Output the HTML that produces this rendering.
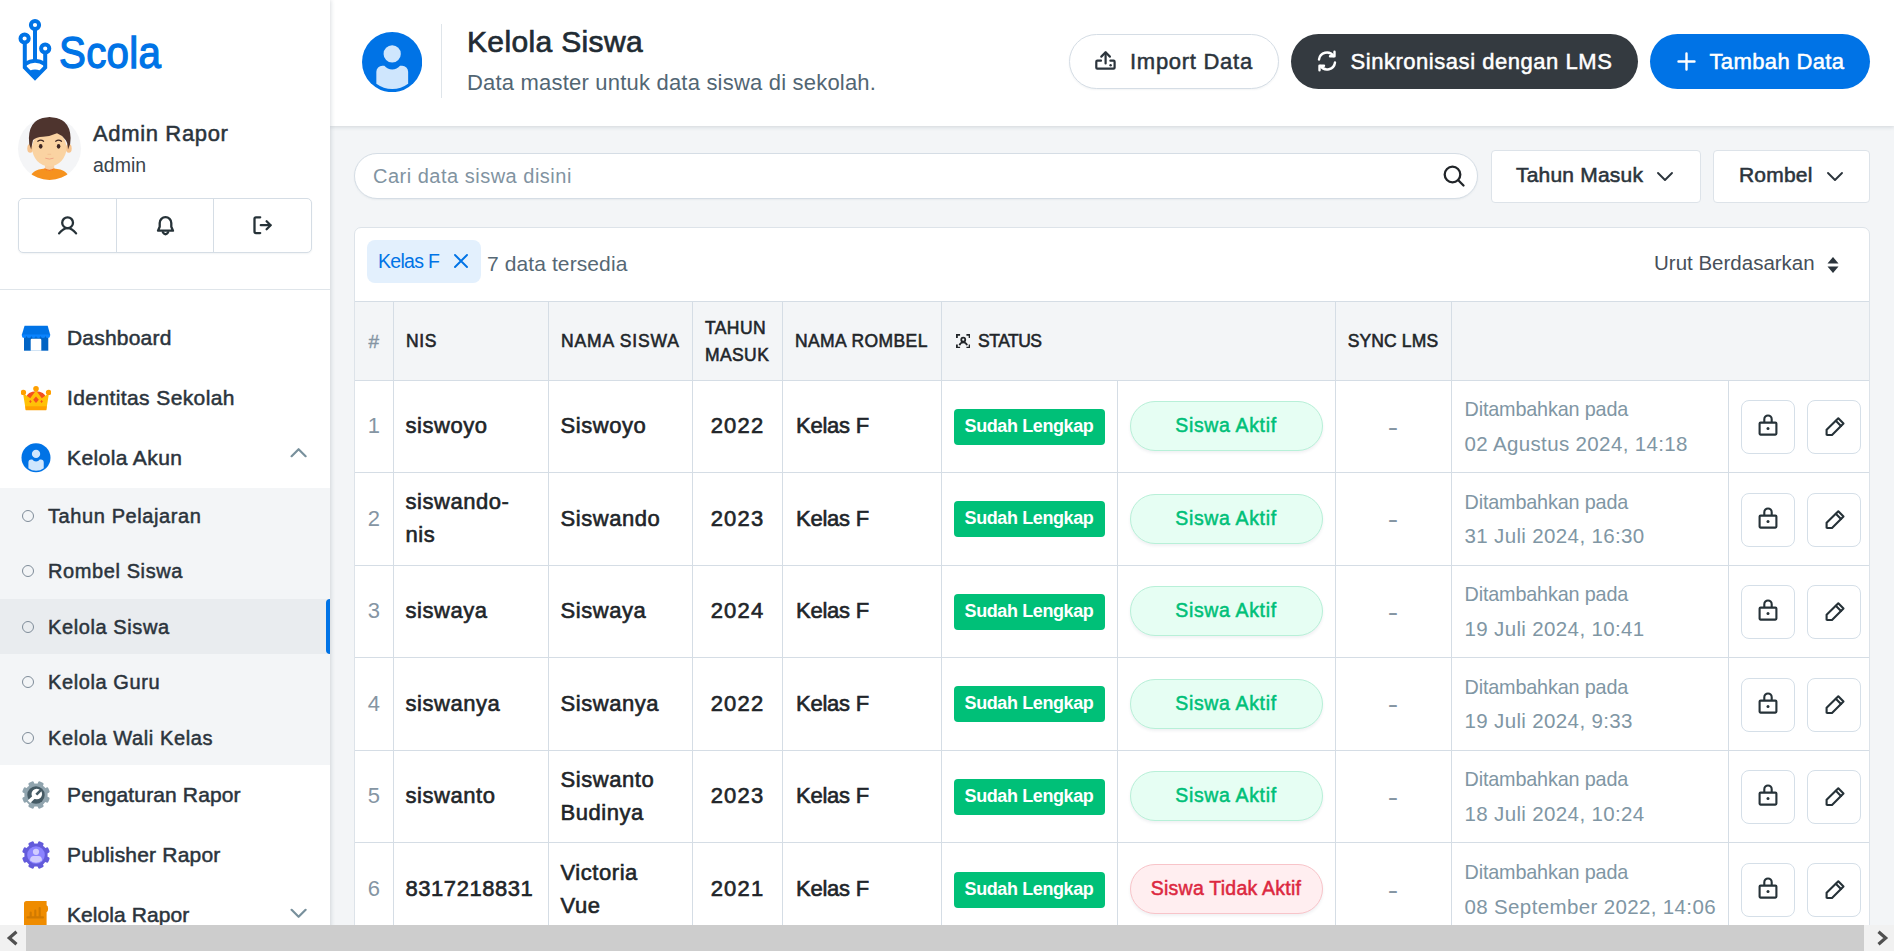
<!DOCTYPE html>
<html lang="id">
<head>
<meta charset="utf-8">
<title>Kelola Siswa - Scola</title>
<style>
*{box-sizing:border-box;margin:0;padding:0}
html,body{width:1894px;height:951px;overflow:hidden;background:#f3f5f7}
body{font-family:"Liberation Sans",sans-serif;color:#212529;position:relative}
.abs{position:absolute}
.t{position:absolute;white-space:nowrap;line-height:1}
.m{-webkit-text-stroke:0.35px currentColor}
svg{display:block}

/* ---------- sidebar ---------- */
#side{position:absolute;left:0;top:0;width:330px;height:951px;background:#fff;box-shadow:1px 0 4px rgba(40,60,80,.17);z-index:3}
#brand{left:58.500px;top:31.400px;font-size:44px;color:#0073e6;letter-spacing:.3px;-webkit-text-stroke:1.300px #0073e6;transform:scaleX(.915);transform-origin:0 0}
#avatar{left:18px;top:117px;width:63px;height:63px;border-radius:50%;background:#f4f5f7;overflow:hidden}
#uname{left:93px;top:122.500px;font-size:22px;letter-spacing:.65px;color:#2b343c;-webkit-text-stroke:0.5px currentColor}
#urole{left:93px;top:156px;font-size:19.5px;color:#3a444d}
#ugrp{left:18px;top:198px;width:294px;height:55px;border:1px solid #d5dde5;border-radius:5px;background:#fff;box-shadow:0 1px 2px rgba(40,60,80,.06)}
#ugrp i{position:absolute;top:0;width:1px;height:53px;background:#d5dde5}
#sdiv{left:0;top:289px;width:330px;height:1px;background:#dfe5ea}
.mi{position:absolute;left:0;width:330px;height:60px}
.mi .ic{position:absolute;left:21px;top:15px;width:30px;height:30px}
.mi .lb{position:absolute;left:67px;top:18.500px;font-size:21px;letter-spacing:.35px;line-height:1;color:#2b343c;white-space:nowrap;-webkit-text-stroke:0.5px currentColor}
.mi .ch{position:absolute;left:289px;top:22.800px}
#sub{left:0;top:488px;width:330px;height:277px;background:#f3f5f7}
.si{position:absolute;left:0;width:330px;height:55.4px}
.si.on{background:#e9ecef}
.si.on:after{content:"";position:absolute;right:0;top:0;width:4px;height:100%;background:#0073e6;border-radius:4px 0 0 4px}
.si b{position:absolute;left:22px;top:22px;width:12px;height:12px;border:1.5px solid #7f8c99;border-radius:50%}
.si span{position:absolute;left:48px;top:18px;font-size:20px;letter-spacing:.6px;line-height:1;color:#2b343c;white-space:nowrap;-webkit-text-stroke:0.5px currentColor}

/* ---------- header ---------- */
#head{position:absolute;left:330px;top:0;width:1564px;height:126px;background:#fff;box-shadow:0 1px 4px rgba(40,60,80,.17);z-index:2}
#hico{left:31.800px;top:31.500px;width:60.200px;height:60.200px}
#hdiv{left:111px;top:24px;width:1px;height:74px;background:#dfe5ea}
#htitle{left:137px;top:27.200px;font-size:30px;letter-spacing:.35px;color:#212b33;-webkit-text-stroke:0.7px currentColor}
#hsub{left:137px;top:71.900px;font-size:22px;letter-spacing:.2px;color:#526673}
.pill{position:absolute;top:34px;height:55px;border-radius:28px;font-size:22px;line-height:1;white-space:nowrap}
.pill span{position:absolute;top:16.500px;-webkit-text-stroke:0.5px currentColor}
.pill svg{position:absolute}
#b1{left:739px;width:210px;background:#fff;border:1px solid #d5dde5;color:#2b343c;box-shadow:0 1px 2px rgba(40,60,80,.06)}
#b2{left:961px;width:347px;background:#343a40;color:#fff}
#b3{left:1320px;width:220px;background:#0073e6;color:#fff}

/* ---------- main ---------- */
#search{left:354px;top:153px;width:1124px;height:46px;border:1px solid #d5dde5;border-radius:23px;background:#fff;box-shadow:0 1px 2px rgba(40,60,80,.06)}
#ph{left:18px;top:12px;font-size:20px;letter-spacing:.5px;color:#8193a1}
.fbtn{position:absolute;top:150px;height:53px;background:#fff;border:1px solid #dde3e9;border-radius:4px;font-size:21px;line-height:1;color:#2b343c;white-space:nowrap}
.fbtn span{position:absolute;top:13.400px;letter-spacing:.2px;-webkit-text-stroke:0.55px currentColor}
.fbtn svg{position:absolute}
#f1{left:1491px;width:210px}
#f2{left:1713px;width:157px}
#card{left:354px;top:227px;width:1516px;height:760px;background:#fff;border:1px solid #dde3e9;border-radius:7px;overflow:hidden}
#chip{left:12px;top:12px;width:114px;height:43px;border-radius:8px;background:#e3f0fd;font-size:19.500px;letter-spacing:-.7px;color:#0073e6}
#cnt{left:132px;top:25px;font-size:21px;letter-spacing:.1px;color:#566875}
#sort{left:1299px;top:25.300px;font-size:20.500px;letter-spacing:0;color:#474f59}
#tb{position:absolute;left:0;top:73px;width:1514px;table-layout:fixed;border-collapse:collapse}
#tb th,#tb td{border-top:1px solid #d5dde5;border-left:1px solid #d5dde5;vertical-align:middle;text-align:left;overflow:hidden}
#tb th:first-child,#tb td:first-child{border-left:0}
#tb tr.hd:nth-child(1){height:78.500px;background:#f3f5f7}
#tb th{font-size:17.500px;font-weight:400;line-height:27px;padding:2px 0 0 12.500px;color:#212529;white-space:nowrap;-webkit-text-stroke:0.55px currentColor;letter-spacing:.85px}
#tb th.c0{color:#8595a3;text-align:center;padding:2px 0 0 0;-webkit-text-stroke:.4px currentColor;font-size:19px;letter-spacing:0}
#tb tr{height:92px}
#tb tr:nth-child(odd){height:93px}
#tb tr:nth-child(odd) td{position:relative;top:.4px}
#tb td{font-size:22px;line-height:33px;padding:0 0 1px 12px;color:#212529;-webkit-text-stroke:0.6px currentColor}
#tb td.c0{color:#8595a3;text-align:center;padding:0 0 1px 0;-webkit-text-stroke:0}
#tb td.c1,#tb td.c2{letter-spacing:.55px}
#tb td.c4{padding-left:13.500px;letter-spacing:-.25px}
#tb td.c5{padding-top:2px}
#tb td.c3{text-align:center;padding:0 0 1px 1px;letter-spacing:1.200px}
#tb td.c6{padding:0;text-align:center}
#tb td.c7{padding:0 0 0 0;text-align:center;color:#8595a3;-webkit-text-stroke:0;font-size:24px}
.ds{display:inline-block;transform:scaleX(1.300)}
#tb td.c8{-webkit-text-stroke:0;color:#8096a4;padding-left:13px;padding-top:3px;font-size:23px}
#tb td.c9{padding:2px 0 0 0;white-space:nowrap;font-size:0}
.bdg{display:inline-block;width:151px;height:36px;line-height:35px;border-radius:4px;background:#00c078;color:#fff;font-size:18px;font-weight:700;text-align:center;-webkit-text-stroke:0;letter-spacing:-.4px;vertical-align:middle}
.st{display:inline-block;width:193px;height:50px;line-height:47.400px;border-radius:25px;position:relative;top:0px;font-size:19.500px;letter-spacing:.65px;-webkit-text-stroke:.5px currentColor;text-align:center;vertical-align:middle;box-shadow:0 2px 3px rgba(40,60,80,.07)}
.st.ok{background:#e6fef3;border:1px solid #b8f0d8;color:#00c078}
.st.no{background:#ffeef0;border:1px solid #f8c4c9;color:#dc2840;letter-spacing:.25px}
.d1{font-size:19.800px;letter-spacing:-.15px;line-height:33px;position:relative;top:-1.500px}
.d2{font-size:20.500px;line-height:33px;letter-spacing:.36px;margin-top:-1px}
.ab{display:inline-block;width:54px;height:54px;border:1px solid #d5dfe8;border-radius:8px;background:#fff;margin-left:12px;vertical-align:middle;position:relative}
.ab2{margin-left:12px}
.ab svg{position:absolute;left:15px;top:12px}
.ab2 svg{top:15px;left:16px}
/* ---------- scrollbar ---------- */
#hscroll{position:absolute;left:0;top:925px;width:1894px;height:26px;background:#f1f1f1;z-index:5}
#thumb{position:absolute;left:26px;top:0;width:1838px;height:26px;background:#cdcdcd}
</style>
</head>
<body>

<!-- ================= SIDEBAR ================= -->
<div id="side">
  <svg class="abs" style="left:17px;top:18px" width="36" height="64" viewBox="0 0 36 64" fill="none" stroke="#0073e6" stroke-width="4">
    <circle cx="18" cy="7" r="4.1"/>
    <circle cx="7.6" cy="20.5" r="4.1"/>
    <circle cx="28.2" cy="30.5" r="4.1"/>
    <path d="M18 11.5V44"/>
    <path d="M7.8 25V49.5L18 60L28.2 49.5V35"/>
    <path d="M8 46Q18 39.5 28 46"/>
    <path d="M13.5 53.5Q18 51.5 22.500 53.5L18 58Z" fill="#0073e6" stroke-width="2"/>
  </svg>
  <div class="t" id="brand">Scola</div>

  <div class="abs" id="avatar">
    <svg width="63" height="63" viewBox="0 0 63 63">
      <path d="M11 63Q13 52.500 27 51.600H36Q50 52.500 52 63Z" fill="#f6921e"/>
      <path d="M26.900 46h9.300v6.200q-4.650 2.600-9.300 0z" fill="#f9cfa0"/>
      <path d="M26.500 51.800q4.900 3 9.900 0" stroke="#f47a20" stroke-width="1.200" fill="none"/>
      <ellipse cx="12.200" cy="31.400" rx="2.900" ry="4.300" fill="#f7c48f"/>
      <ellipse cx="50.800" cy="31.400" rx="2.900" ry="4.300" fill="#f7c48f"/>
      <ellipse cx="31.300" cy="31" rx="17.100" ry="18.300" fill="#fad3a2"/>
      <path d="M13.200 32.500Q10.400 27 10.900 21Q11.500 0.500 31.500 0.100Q52 0.500 52.600 21Q53 27 50 32.500Q49.500 24 46.700 22Q43.500 18 39 16.300Q32 19.500 25 19.800Q18 20 15 23Q14 27 13.200 32.500Z" fill="#4e342e"/>
      <ellipse cx="22.700" cy="29.300" rx="1.800" ry="2.400" fill="#3e2723"/>
      <ellipse cx="40.600" cy="29.300" rx="1.800" ry="2.400" fill="#3e2723"/>
      <path d="M19.800 24.200q2.900-2.300 5.800 0M37.700 24.200q2.900-2.300 5.800 0" stroke="#3e2723" stroke-width="1.300" fill="none" stroke-linecap="round"/>
      <path d="M29.500 37.300h3.600" stroke="#f3bd8e" stroke-width=".8" fill="none"/>
      <path d="M27.300 41.200q4.100 1.700 8.200 0" stroke="#eea586" stroke-width="1" fill="none"/>
    </svg>
  </div>
  <div class="t m" id="uname">Admin Rapor</div>
  <div class="t" id="urole">admin</div>

  <div class="abs" id="ugrp">
    <i style="left:97px"></i><i style="left:194px"></i>
    <svg class="abs" style="left:37px;top:15px" width="24" height="24" viewBox="0 0 24 24" fill="none" stroke="#263238" stroke-width="2.300" stroke-linecap="round">
      <circle cx="11.600" cy="8.700" r="5.400"/><path d="M3.100 19.400Q11.600 8.800 20.100 19.400"/>
    </svg>
    <svg class="abs" style="left:135px;top:15px" width="24" height="24" viewBox="0 0 24 24" fill="none" stroke="#263238" stroke-width="2.300" stroke-linecap="round" stroke-linejoin="round">
      <path d="M4 16.700L5.700 12.800V9a5.800 5.800 0 0 1 11.600 0V12.800L19 16.700Z"/><path d="M8.900 18.300q2.600 3.900 5.200 0"/>
    </svg>
    <svg class="abs" style="left:232px;top:15px" width="24" height="24" viewBox="0 0 24 24" fill="none" stroke="#263238" stroke-width="2.300" stroke-linecap="round" stroke-linejoin="round">
      <path d="M9.200 3.300H5a1.500 1.500 0 0 0-1.500 1.500V17.600A1.500 1.500 0 0 0 5 19.100H9.200"/><path d="M9.800 11.200h9.600"/><path d="M15.600 7.200l4 4-4 4"/>
    </svg>
  </div>
  <div class="abs" id="sdiv"></div>

  <!-- main menu -->
  <div class="mi" style="top:308px">
    <svg class="ic" viewBox="0 0 30 30"><path d="M3 12h24.300v15.700H3z" fill="#0063c4"/><path d="M3.600 2.700H26.700L29.100 11.500V12.500H0.900V11.500z" fill="#0073e6"/><path d="M0.900 11.500h28.200v1.200a2.350 2.350 0 0 1-4.700 0 2.350 2.350 0 0 1-4.700 0 2.350 2.350 0 0 1-4.700 0 2.350 2.350 0 0 1-4.700 0 2.350 2.350 0 0 1-4.700 0 2.350 2.350 0 0 1-4.700 0z" fill="#0a84ff"/><path d="M9.700 27.700V17q0-1.300 1.300-1.300h8q1.300 0 1.300 1.300v10.700z" fill="#fff"/></svg>
    <div class="lb" style="letter-spacing:0.2px">Dashboard</div>
  </div>
  <div class="mi" style="top:368px">
    <svg class="ic" viewBox="0 0 30 30"><ellipse cx="15" cy="14.500" rx="9.600" ry="6.200" fill="#f4511e"/><path d="M2 10L4.700 27H25.300L28 10L20.800 15.200L15 7.500L9.200 15.200Z" fill="#ffc107"/><path d="M4.200 23.200H25.800L25.200 27.200H4.800z" fill="#ffa000"/><circle cx="2.400" cy="9.400" r="2.700" fill="#ffa000"/><circle cx="27.600" cy="9.400" r="2.700" fill="#ffa000"/><circle cx="15" cy="5.700" r="2.800" fill="#ffa000"/><path d="M15 13.600l2.800 3.200-2.800 3.200-2.800-3.200z" fill="#f4511e"/><path d="M9.400 17l1.300 1.500-1.300 1.500-1.300-1.500zM20.600 17l1.300 1.500-1.300 1.500-1.300-1.500z" fill="#f4511e"/></svg>
    <div class="lb" style="letter-spacing:0.4px">Identitas Sekolah</div>
  </div>
  <div class="mi" style="top:428px">
    <svg class="ic" viewBox="0 0 30 30"><g transform="translate(0.5 0.300) scale(0.4833)"><circle cx="30" cy="30" r="30" fill="#0073e6"/><circle cx="30.100" cy="21.900" r="8.600" fill="#cfe6fd"/><path d="M14.300 51.700V39.600a6 6 0 0 1 6-6H22.300A9.900 9.900 0 0 0 37.900 33.600H40a6 6 0 0 1 6 6V51.700A26.800 26.800 0 0 1 14.300 51.700Z" fill="#cfe6fd"/></g></svg>
    <div class="lb" style="letter-spacing:0.4px">Kelola Akun</div>
    <svg class="ch" width="18" height="11" viewBox="0 0 18 11" fill="none" stroke="#78909c" stroke-width="2.200" stroke-linecap="round" stroke-linejoin="round" style="top:19px"><path d="M2.600 9.200L9.600 2.200l7 7"/></svg>
  </div>

  <div class="abs" id="sub">
    <div class="si" style="top:0"><b></b><span>Tahun Pelajaran</span></div>
    <div class="si" style="top:55.4px"><b></b><span>Rombel Siswa</span></div>
    <div class="si on" style="top:110.800px"><b></b><span>Kelola Siswa</span></div>
    <div class="si" style="top:166.200px"><b></b><span>Kelola Guru</span></div>
    <div class="si" style="top:221.600px"><b></b><span>Kelola Wali Kelas</span></div>
  </div>

  <div class="mi" style="top:765px">
    <svg class="ic" viewBox="0 0 30 30"><g fill="#90a4ae"><circle cx="15" cy="15" r="11.600"/><rect x="12.100" y="1" width="5.800" height="6" rx="1.400" transform="rotate(22.5 15 15)"/><rect x="12.100" y="1" width="5.800" height="6" rx="1.400" transform="rotate(67.5 15 15)"/><rect x="12.100" y="1" width="5.800" height="6" rx="1.400" transform="rotate(112.5 15 15)"/><rect x="12.100" y="1" width="5.800" height="6" rx="1.400" transform="rotate(157.5 15 15)"/><rect x="12.100" y="1" width="5.800" height="6" rx="1.400" transform="rotate(202.5 15 15)"/><rect x="12.100" y="1" width="5.800" height="6" rx="1.400" transform="rotate(247.5 15 15)"/><rect x="12.100" y="1" width="5.800" height="6" rx="1.400" transform="rotate(292.5 15 15)"/><rect x="12.100" y="1" width="5.800" height="6" rx="1.400" transform="rotate(337.5 15 15)"/></g><circle cx="15" cy="15" r="8.700" fill="#455a64"/><circle cx="15.800" cy="14" r="5.300" fill="#fff"/><path d="M13.500 16.500l-5.500 5.300" stroke="#fff" stroke-width="3.600" stroke-linecap="butt"/><path d="M15.300 14.700l4.800-4.800" stroke="#455a64" stroke-width="2.600"/></svg>
    <div class="lb" style="letter-spacing:0.13px">Pengaturan Rapor</div>
  </div>
  <div class="mi" style="top:825px">
    <svg class="ic" viewBox="0 0 30 30"><g fill="#635bdb"><circle cx="15" cy="15" r="11.600"/><rect x="12.100" y="1" width="5.800" height="6" rx="1.400" transform="rotate(22.5 15 15)"/><rect x="12.100" y="1" width="5.800" height="6" rx="1.400" transform="rotate(67.5 15 15)"/><rect x="12.100" y="1" width="5.800" height="6" rx="1.400" transform="rotate(112.5 15 15)"/><rect x="12.100" y="1" width="5.800" height="6" rx="1.400" transform="rotate(157.5 15 15)"/><rect x="12.100" y="1" width="5.800" height="6" rx="1.400" transform="rotate(202.5 15 15)"/><rect x="12.100" y="1" width="5.800" height="6" rx="1.400" transform="rotate(247.5 15 15)"/><rect x="12.100" y="1" width="5.800" height="6" rx="1.400" transform="rotate(292.5 15 15)"/><rect x="12.100" y="1" width="5.800" height="6" rx="1.400" transform="rotate(337.5 15 15)"/></g><circle cx="15" cy="15" r="8.800" fill="#8c84ff"/><circle cx="15" cy="11.800" r="3.100" fill="#d1ccff"/><path d="M9 20.500q0-4.500 3.500-4.500h5q3.500 0 3.500 4.500-6 4.500-12 0z" fill="#d1ccff"/></svg>
    <div class="lb" style="letter-spacing:0.19px">Publisher Rapor</div>
  </div>
  <div class="mi" style="top:885px">
    <svg class="ic" viewBox="0 0 30 30"><path d="M3 3.500q0-2.500 2.500-2.500H25.600V5.200q1.500.3 1.500 3.500t-1.500 3.500V30H3z" fill="#ef8c00"/><path d="M6.500 17.400h15.500" stroke="#d17a00" stroke-width="2.100" stroke-linecap="round"/><path d="M9.700 17v-4.500M14.300 17v-6.500M18.700 17v-9" stroke="#d17a00" stroke-width="2.100" stroke-linecap="round"/></svg>
    <div class="lb" style="letter-spacing:0.08px">Kelola Rapor</div>
    <svg class="ch" width="18" height="11" viewBox="0 0 18 11" fill="none" stroke="#78909c" stroke-width="2.200" stroke-linecap="round" stroke-linejoin="round"><path d="M2.600 1.800L9.600 8.800l7-7"/></svg>
  </div>
</div>

<!-- ================= HEADER ================= -->
<div id="head">
  <svg class="abs" id="hico" viewBox="0 0 60 60"><circle cx="30" cy="30" r="30" fill="#0073e6"/><circle cx="30.100" cy="21.900" r="8.600" fill="#cfe6fd"/><path d="M14.300 51.700V39.600a6 6 0 0 1 6-6H22.300A9.900 9.900 0 0 0 37.900 33.600H40a6 6 0 0 1 6 6V51.700A26.800 26.800 0 0 1 14.300 51.700Z" fill="#cfe6fd"/></svg>
  <div class="abs" id="hdiv"></div>
  <div class="t" id="htitle">Kelola Siswa</div>
  <div class="t" id="hsub">Data master untuk data siswa di sekolah.</div>

  <div class="pill" id="b1">
    <svg style="left:25px;top:15px" width="22" height="22" viewBox="0 0 22 22" fill="none" stroke="#2b343c" stroke-width="2.200" stroke-linecap="round" stroke-linejoin="round"><path d="M10.600 13.500V2.600"/><path d="M6.300 6.600L10.600 2.300l4.300 4.300"/><path d="M6 10.700H2.300a1 1 0 0 0-1 1V17.700a1 1 0 0 0 1 1H18.600a1 1 0 0 0 1-1V11.700a1 1 0 0 0-1-1H15.400"/><circle cx="15.600" cy="15.300" r="1.200" fill="#2b343c" stroke="none"/></svg>
    <span style="left:60px;top:15.500px;letter-spacing:.72px">Import Data</span>
  </div>
  <div class="pill" id="b2">
    <svg style="left:25px;top:16px" width="22" height="22" viewBox="0 0 22 22" fill="none" stroke="#fff" stroke-width="2.400" stroke-linecap="round" stroke-linejoin="round"><path d="M3 9.500A8 8 0 0 1 17.500 6"/><path d="M18.500 1.800V6.300H14"/><path d="M19 12.500A8 8 0 0 1 4.500 16"/><path d="M3.500 20.200V15.700H8"/></svg>
    <span style="left:59.500px;letter-spacing:.54px">Sinkronisasi dengan LMS</span>
  </div>
  <div class="pill" id="b3">
    <svg style="left:27px;top:18px" width="19" height="19" viewBox="0 0 19 19" fill="none" stroke="#fff" stroke-width="2.400" stroke-linecap="round"><path d="M9.500 1.500v16M1.500 9.500h16"/></svg>
    <span style="left:59.500px;letter-spacing:.37px">Tambah Data</span>
  </div>
</div>

<div id="main">
  <div class="abs" id="search">
    <div class="t" id="ph">Cari data siswa disini</div>
    <svg class="abs" style="left:1087px;top:9.800px" width="24" height="24" viewBox="0 0 24 24" fill="none" stroke="#212529" stroke-width="2.300" stroke-linecap="round"><circle cx="10.500" cy="10.500" r="7.800"/><path d="M16.300 16.300L21.500 21.500"/></svg>
  </div>
  <div class="fbtn" id="f1"><span style="left:24px">Tahun Masuk</span>
    <svg style="left:164px;top:20px" width="18" height="11" viewBox="0 0 18 11" fill="none" stroke="#2b343c" stroke-width="1.900" stroke-linecap="round" stroke-linejoin="round"><path d="M2 2l7 7 7-7"/></svg></div>
  <div class="fbtn" id="f2"><span style="left:25px">Rombel</span>
    <svg style="left:112px;top:20px" width="18" height="11" viewBox="0 0 18 11" fill="none" stroke="#2b343c" stroke-width="1.900" stroke-linecap="round" stroke-linejoin="round"><path d="M2 2l7 7 7-7"/></svg></div>

  <div class="abs" id="card">
    <div class="abs" id="chip"><span class="t" style="left:11px;top:11.500px">Kelas F</span>
      <svg class="abs" style="left:86px;top:13px" width="16" height="16" viewBox="0 0 16 16" fill="none" stroke="#0073e6" stroke-width="1.900" stroke-linecap="round"><path d="M2 2l12 12M14 2L2 14"/></svg></div>
    <div class="t" id="cnt">7 data tersedia</div>
    <div class="t" id="sort">Urut Berdasarkan</div>
    <svg class="abs" style="left:1470.500px;top:27.500px" width="14" height="18" viewBox="0 0 14 18" fill="#2b343c"><path d="M7 1l5.500 6.500h-11z"/><path d="M7 17l5.500-6.500h-11z"/></svg>

    <table id="tb" cellspacing="0">
    <colgroup><col style="width:38px"><col style="width:155px"><col style="width:144px"><col style="width:90px"><col style="width:159px"><col style="width:176px"><col style="width:218px"><col style="width:116px"><col style="width:277px"><col style="width:141px"></colgroup>
    <tr class="hd">
      <th class="c0">#</th><th style="letter-spacing:.6px">NIS</th><th>NAMA SISWA</th><th style="letter-spacing:.4px">TAHUN<br>MASUK</th><th style="letter-spacing:.4px">NAMA ROMBEL</th>
      <th colspan="2" class="nb" style="letter-spacing:-.5px;padding-left:14.300px"><svg width="14.500" height="14.500" viewBox="0 0 16 16" fill="none" stroke="#212529" stroke-width="2" style="display:inline-block;vertical-align:-1px;margin-right:7.800px"><path d="M1 4.500V1h3.500M11.500 1H15v3.500M15 11.500V15h-3.500M4.500 15H1v-3.500"/><circle cx="8" cy="6.300" r="2.200"/><path d="M3.800 12.500q1-3.200 4.200-3.200t4.200 3.200"/></svg>STATUS</th>
      <th style="text-align:center;padding:2px 0 0 0;letter-spacing:.13px">SYNC LMS</th><th colspan="2" class="nb"></th>
    </tr>
    <tr>
      <td class="c0">1</td><td class="c1">siswoyo</td><td class="c2">Siswoyo</td><td class="c3">2022</td><td class="c4">Kelas F</td>
      <td class="c5"><span class="bdg">Sudah Lengkap</span></td><td class="c6"><span class="st ok">Siswa Aktif</span></td>
      <td class="c7"><span class="ds">-</span></td><td class="c8"><div class="d1">Ditambahkan pada</div><div class="d2">02 Agustus 2024, 14:18</div></td>
      <td class="c9"><span class="ab"><svg width="22" height="24" viewBox="0 0 22 24" fill="none" stroke="#263238" stroke-width="2.1" stroke-linejoin="round"><rect x="2.6" y="9.6" width="16.8" height="12" rx="1"/><path d="M7.300 9.500V6.200a3.700 3.700 0 0 1 7.400 0V9.500"/><circle cx="11" cy="15.500" r="1.500" fill="#263238" stroke="none"/></svg></span><span class="ab ab2"><svg width="22" height="22" viewBox="0 0 22 22" fill="none" stroke="#263238" stroke-width="2.1" stroke-linejoin="round" stroke-linecap="round"><path d="M14.300 2.300l5.200 5.200L8 19H3.200a.6.600 0 0 1-.6-.6V13.800z"/><path d="M11.800 4.800l5.200 5.200"/></svg></span></td>
    </tr>
    <tr>
      <td class="c0">2</td><td class="c1">siswando-<br>nis</td><td class="c2">Siswando</td><td class="c3">2023</td><td class="c4">Kelas F</td>
      <td class="c5"><span class="bdg">Sudah Lengkap</span></td><td class="c6"><span class="st ok">Siswa Aktif</span></td>
      <td class="c7"><span class="ds">-</span></td><td class="c8"><div class="d1">Ditambahkan pada</div><div class="d2">31 Juli 2024, 16:30</div></td>
      <td class="c9"><span class="ab"><svg width="22" height="24" viewBox="0 0 22 24" fill="none" stroke="#263238" stroke-width="2.1" stroke-linejoin="round"><rect x="2.6" y="9.6" width="16.8" height="12" rx="1"/><path d="M7.300 9.500V6.200a3.700 3.700 0 0 1 7.400 0V9.500"/><circle cx="11" cy="15.500" r="1.500" fill="#263238" stroke="none"/></svg></span><span class="ab ab2"><svg width="22" height="22" viewBox="0 0 22 22" fill="none" stroke="#263238" stroke-width="2.1" stroke-linejoin="round" stroke-linecap="round"><path d="M14.300 2.300l5.200 5.200L8 19H3.200a.6.600 0 0 1-.6-.6V13.800z"/><path d="M11.800 4.800l5.200 5.200"/></svg></span></td>
    </tr>
    <tr>
      <td class="c0">3</td><td class="c1">siswaya</td><td class="c2">Siswaya</td><td class="c3">2024</td><td class="c4">Kelas F</td>
      <td class="c5"><span class="bdg">Sudah Lengkap</span></td><td class="c6"><span class="st ok">Siswa Aktif</span></td>
      <td class="c7"><span class="ds">-</span></td><td class="c8"><div class="d1">Ditambahkan pada</div><div class="d2">19 Juli 2024, 10:41</div></td>
      <td class="c9"><span class="ab"><svg width="22" height="24" viewBox="0 0 22 24" fill="none" stroke="#263238" stroke-width="2.1" stroke-linejoin="round"><rect x="2.6" y="9.6" width="16.8" height="12" rx="1"/><path d="M7.300 9.500V6.200a3.700 3.700 0 0 1 7.400 0V9.500"/><circle cx="11" cy="15.500" r="1.500" fill="#263238" stroke="none"/></svg></span><span class="ab ab2"><svg width="22" height="22" viewBox="0 0 22 22" fill="none" stroke="#263238" stroke-width="2.1" stroke-linejoin="round" stroke-linecap="round"><path d="M14.300 2.300l5.200 5.200L8 19H3.200a.6.600 0 0 1-.6-.6V13.800z"/><path d="M11.800 4.800l5.200 5.200"/></svg></span></td>
    </tr>
    <tr>
      <td class="c0">4</td><td class="c1">siswanya</td><td class="c2">Siswanya</td><td class="c3">2022</td><td class="c4">Kelas F</td>
      <td class="c5"><span class="bdg">Sudah Lengkap</span></td><td class="c6"><span class="st ok">Siswa Aktif</span></td>
      <td class="c7"><span class="ds">-</span></td><td class="c8"><div class="d1">Ditambahkan pada</div><div class="d2">19 Juli 2024, 9:33</div></td>
      <td class="c9"><span class="ab"><svg width="22" height="24" viewBox="0 0 22 24" fill="none" stroke="#263238" stroke-width="2.1" stroke-linejoin="round"><rect x="2.6" y="9.6" width="16.8" height="12" rx="1"/><path d="M7.300 9.500V6.200a3.700 3.700 0 0 1 7.400 0V9.500"/><circle cx="11" cy="15.500" r="1.500" fill="#263238" stroke="none"/></svg></span><span class="ab ab2"><svg width="22" height="22" viewBox="0 0 22 22" fill="none" stroke="#263238" stroke-width="2.1" stroke-linejoin="round" stroke-linecap="round"><path d="M14.300 2.300l5.200 5.200L8 19H3.200a.6.600 0 0 1-.6-.6V13.800z"/><path d="M11.800 4.800l5.200 5.200"/></svg></span></td>
    </tr>
    <tr>
      <td class="c0">5</td><td class="c1">siswanto</td><td class="c2">Siswanto<br>Budinya</td><td class="c3">2023</td><td class="c4">Kelas F</td>
      <td class="c5"><span class="bdg">Sudah Lengkap</span></td><td class="c6"><span class="st ok">Siswa Aktif</span></td>
      <td class="c7"><span class="ds">-</span></td><td class="c8"><div class="d1">Ditambahkan pada</div><div class="d2">18 Juli 2024, 10:24</div></td>
      <td class="c9"><span class="ab"><svg width="22" height="24" viewBox="0 0 22 24" fill="none" stroke="#263238" stroke-width="2.1" stroke-linejoin="round"><rect x="2.6" y="9.6" width="16.8" height="12" rx="1"/><path d="M7.300 9.500V6.200a3.700 3.700 0 0 1 7.400 0V9.500"/><circle cx="11" cy="15.500" r="1.500" fill="#263238" stroke="none"/></svg></span><span class="ab ab2"><svg width="22" height="22" viewBox="0 0 22 22" fill="none" stroke="#263238" stroke-width="2.1" stroke-linejoin="round" stroke-linecap="round"><path d="M14.300 2.300l5.200 5.200L8 19H3.200a.6.600 0 0 1-.6-.6V13.800z"/><path d="M11.800 4.800l5.200 5.200"/></svg></span></td>
    </tr>
    <tr>
      <td class="c0">6</td><td class="c1">8317218831</td><td class="c2">Victoria<br>Vue</td><td class="c3">2021</td><td class="c4">Kelas F</td>
      <td class="c5"><span class="bdg">Sudah Lengkap</span></td><td class="c6"><span class="st no">Siswa Tidak Aktif</span></td>
      <td class="c7"><span class="ds">-</span></td><td class="c8"><div class="d1">Ditambahkan pada</div><div class="d2">08 September 2022, 14:06</div></td>
      <td class="c9"><span class="ab"><svg width="22" height="24" viewBox="0 0 22 24" fill="none" stroke="#263238" stroke-width="2.1" stroke-linejoin="round"><rect x="2.6" y="9.6" width="16.8" height="12" rx="1"/><path d="M7.300 9.500V6.200a3.700 3.700 0 0 1 7.400 0V9.500"/><circle cx="11" cy="15.500" r="1.500" fill="#263238" stroke="none"/></svg></span><span class="ab ab2"><svg width="22" height="22" viewBox="0 0 22 22" fill="none" stroke="#263238" stroke-width="2.1" stroke-linejoin="round" stroke-linecap="round"><path d="M14.300 2.300l5.200 5.200L8 19H3.200a.6.600 0 0 1-.6-.6V13.800z"/><path d="M11.800 4.800l5.200 5.200"/></svg></span></td>
    </tr>
    </table>
  </div>
</div>

<!-- SCROLLBAR -->
<div id="hscroll"><div id="thumb"></div>
  <svg class="abs" style="left:5px;top:5px" width="14" height="16" viewBox="0 0 14 16" fill="none" stroke="#505050" stroke-width="3.200"><path d="M11.500 1.800L4.300 8l7.200 6.200"/></svg>
  <svg class="abs" style="left:1875.500px;top:5px" width="14" height="16" viewBox="0 0 14 16" fill="none" stroke="#505050" stroke-width="3.200"><path d="M2.500 1.800L9.700 8l-7.200 6.200"/></svg>
</div>

</body>
</html>
